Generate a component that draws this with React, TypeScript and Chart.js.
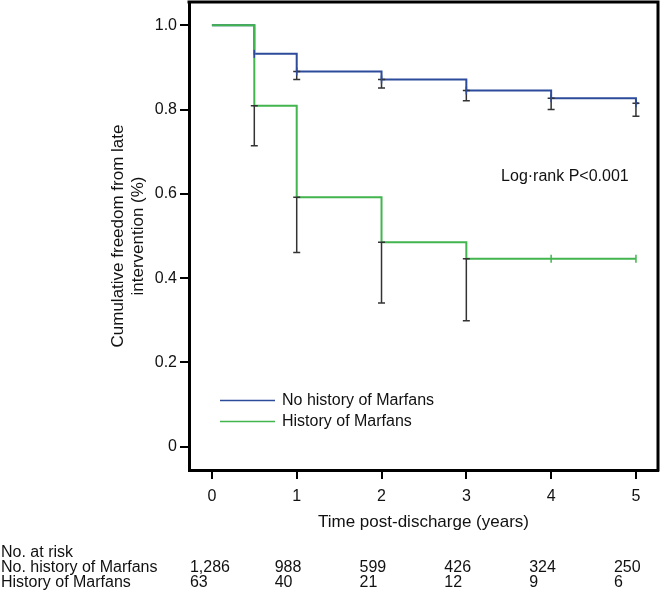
import React, { useEffect, useRef } from 'react';
import { Chart, registerables } from 'chart.js';

Chart.register(...registerables);

const FONT = '"Liberation Sans", Arial, Helvetica, sans-serif';

// x-axis ticks (years) and y-axis ticks
const years = [0, 1, 2, 3, 4, 5];
const yTickValues = [0, 0.2, 0.4, 0.6, 0.8, 1.0];

// No history of Marfans (Kaplan-Meier steps)
const noHistTimes = [0, 0.5, 1, 2, 3, 4, 5, 5.03];
const noHistSurv = [1.0, 0.932, 0.89, 0.871, 0.845, 0.827, 0.815, 0.815];
const noHistErrTimes = [1, 2, 3, 4, 5];
const noHistErrTop = [0.89, 0.871, 0.845, 0.827, 0.815];
const noHistErrLow = [0.871, 0.851, 0.821, 0.8, 0.784];
const noHistCensorTimes = [0.5, 1, 2, 3, 4, 5];
const noHistCensorVals = [0.932, 0.89, 0.871, 0.845, 0.827, 0.815];

// History of Marfans
const histTimes = [0, 0.5, 1, 2, 3, 5];
const histSurv = [1.0, 0.809, 0.592, 0.485, 0.446, 0.446];
const histErrTimes = [0.5, 1, 2, 3];
const histErrTop = [0.809, 0.592, 0.485, 0.446];
const histErrLow = [0.714, 0.461, 0.341, 0.299];
const histCensorTimes = [4, 5];
const histCensorVals = [0.446, 0.446];

// Number at risk table
const riskTitle = 'No. at risk';
const riskLabels = ['No. history of Marfans', 'History of Marfans'];
const riskNoHist = ['1,286', '988', '599', '426', '324', '250'];
const riskHist = ['63', '40', '21', '12', '9', '6'];

const seriesNames = ['No history of Marfans', 'History of Marfans'];
const BLUE = '#2d4b9b';
const GREEN = '#42b54f';
const pValueText = 'Log\u00b7rank P<0.001';

const App: React.FC = () => {
  const ref = useRef<HTMLCanvasElement | null>(null);

  useEffect(() => {
    if (!ref.current) return;

    const overlay = {
      id: 'kmOverlay',
      afterDatasetsDraw(chart: any) {
        const ctx = chart.ctx as CanvasRenderingContext2D;
        const xs = chart.scales.x;
        const ys = chart.scales.y;
        const { left, right, top, bottom } = chart.chartArea;
        ctx.save();
        // error bars
        ctx.strokeStyle = '#333333';
        ctx.lineWidth = 1.5;
        const drawErr = (t: number[], hi: number[], lo: number[]) => {
          t.forEach((tv, i) => {
            const x = xs.getPixelForValue(tv);
            const y1 = ys.getPixelForValue(hi[i]);
            const y2 = ys.getPixelForValue(lo[i]);
            ctx.beginPath();
            ctx.moveTo(x, y1);
            ctx.lineTo(x, y2);
            ctx.moveTo(x - 3.5, y2);
            ctx.lineTo(x + 3.5, y2);
            ctx.moveTo(x - 3.5, y1);
            ctx.lineTo(x + 3.5, y1);
            ctx.stroke();
          });
        };
        drawErr(noHistErrTimes, noHistErrTop, noHistErrLow);
        drawErr(histErrTimes, histErrTop, histErrLow);
        // censor ticks
        const drawCensor = (t: number[], v: number[], color: string) => {
          ctx.strokeStyle = color;
          ctx.lineWidth = 1.5;
          t.forEach((tv, i) => {
            const x = xs.getPixelForValue(tv);
            const y = ys.getPixelForValue(v[i]);
            ctx.beginPath();
            ctx.moveTo(x, y - 4);
            ctx.lineTo(x, y + 4);
            ctx.stroke();
          });
        };
        drawCensor(noHistCensorTimes, noHistCensorVals, BLUE);
        drawCensor(histCensorTimes, histCensorVals, GREEN);

        // frame top & right
        ctx.strokeStyle = '#000';
        ctx.lineWidth = 3;
        ctx.beginPath();
        ctx.moveTo(left - 1.5, top);
        ctx.lineTo(right, top);
        ctx.lineTo(right, bottom + 1.5);
        ctx.stroke();

        // legend
        ctx.font = `16px ${FONT}`;
        ctx.textBaseline = 'middle';
        ctx.textAlign = 'left';
        ctx.fillStyle = '#111';
        const legY = [ys.getPixelForValue(0.11), ys.getPixelForValue(0.06)];
        const legColors = [BLUE, GREEN];
        seriesNames.forEach((name, i) => {
          ctx.strokeStyle = legColors[i];
          ctx.lineWidth = 1.5;
          ctx.beginPath();
          ctx.moveTo(220, legY[i]);
          ctx.lineTo(275, legY[i]);
          ctx.stroke();
          ctx.fillText(name, 282, legY[i]);
        });

        // p-value
        ctx.fillText(pValueText, xs.getPixelForValue(3.41), ys.getPixelForValue(0.64));

        // risk table
        ctx.fillText(riskTitle, 1, 553);
        ctx.fillText(riskLabels[0], 1, 568);
        ctx.fillText(riskLabels[1], 1, 583);
        years.forEach((yr, i) => {
          const x = xs.getPixelForValue(yr) - 22;
          ctx.fillText(riskNoHist[i], x, 568);
          ctx.fillText(riskHist[i], x, 583);
        });
        ctx.restore();
      },
    };

    const chart = new Chart(ref.current, {
      type: 'line',
      data: {
        datasets: [
          {
            label: seriesNames[1],
            data: histTimes.map((t, i) => ({ x: t, y: histSurv[i] })),
            borderColor: GREEN,
            borderWidth: 2,
            stepped: 'before',
            pointRadius: 0,
            fill: false,
          },
          {
            label: seriesNames[0],
            data: noHistTimes.map((t, i) => ({ x: t, y: noHistSurv[i] })),
            borderColor: BLUE,
            borderWidth: 2,
            stepped: 'before',
            pointRadius: 0,
            fill: false,
          },
        ],
      },
      options: {
        responsive: false,
        animation: false,
        events: [],
        layout: { padding: { left: 0, top: 2, right: 8, bottom: 0 } },
        plugins: { legend: { display: false }, tooltip: { enabled: false } },
        scales: {
          x: {
            type: 'linear',
            min: -0.27,
            max: 5.26,
            afterBuildTicks: (s: any) => {
              s.ticks = years.map((v) => ({ value: v }));
            },
            afterFit: (s: any) => {
              s.height = 129;
              s.paddingLeft = 0;
              s.paddingRight = 0;
            },
            ticks: {
              font: { family: FONT, size: 16 },
              color: '#111',
              padding: 8,
              maxRotation: 0,
              callback: (v: any) => String(v),
            },
            grid: {
              drawOnChartArea: false,
              drawTicks: true,
              tickLength: 9,
              color: '#000',
              lineWidth: 2,
            },
            border: { display: true, color: '#000', width: 3 },
            title: {
              display: true,
              text: 'Time post-discharge (years)',
              font: { family: FONT, size: 17 },
              color: '#111',
              padding: { top: 0, bottom: 66 },
            },
          },
          y: {
            type: 'linear',
            min: -0.055,
            max: 1.055,
            afterBuildTicks: (s: any) => {
              s.ticks = yTickValues.map((v) => ({ value: v }));
            },
            afterFit: (s: any) => {
              s.width = 189;
              s.paddingTop = 0;
              s.paddingBottom = 0;
            },
            ticks: {
              font: { family: FONT, size: 16 },
              color: '#111',
              padding: 3,
              callback: (v: any) => (v === 0 ? '0' : Number(v).toFixed(1)),
            },
            grid: {
              drawOnChartArea: false,
              drawTicks: true,
              tickLength: 9,
              color: '#000',
              lineWidth: 2,
            },
            border: { display: true, color: '#000', width: 3 },
            title: {
              display: true,
              text: ['Cumulative freedom from late', 'intervention (%)'],
              font: { family: FONT, size: 17 },
              color: '#111',
              padding: { top: 108, bottom: 0 },
            },
          },
        },
      },
      plugins: [overlay],
    });

    return () => chart.destroy();
  }, []);

  return (
    <div style={{ position: 'absolute', left: 0, top: 0, width: 666, height: 599, background: '#fff' }}>
      <canvas ref={ref} width={666} height={599} style={{ display: 'block' }} />
    </div>
  );
};

export default App;
